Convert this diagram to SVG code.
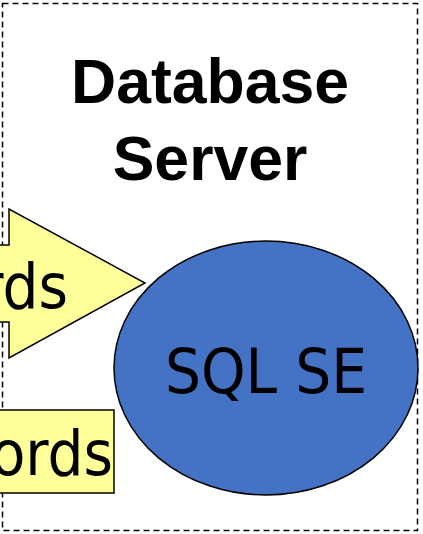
<svg xmlns="http://www.w3.org/2000/svg" width="423" height="534" viewBox="0 0 423 534">
<style>
.lbl{font-family:"DejaVu Sans Condensed","DejaVu Sans",sans-serif;font-size:63px;fill:#000}
.title{font-family:"Liberation Sans",Arial,sans-serif;font-weight:bold;font-size:62.5px;fill:#000;text-anchor:middle}
.y{fill:#FFFF99;stroke:#000;stroke-width:1.5}
</style>
<rect width="423" height="534" fill="#fff"/>
<g id="server">
<rect x="2.5" y="3.5" width="415" height="527" fill="none" stroke="#000" stroke-width="1.5" stroke-dasharray="6,4"/>
<text class="title" x="210" y="103">Database</text>
<text class="title" x="210" y="180">Server</text>
</g>
<g id="arrow">
<polygon class="y" points="-5,245 9,245 9,209 145,283 9,358 9,322 -5,322"/>
<text class="lbl" x="68" y="308" text-anchor="end">rds</text>
</g>
<g id="records">
<rect class="y" x="-5" y="410" width="119" height="83"/>
<text class="lbl" x="113" y="475" text-anchor="end">ords</text>
</g>
<g id="sqlse">
<ellipse cx="266" cy="368" rx="152" ry="127" fill="#4472C4" stroke="#000" stroke-width="1.5"/>
<text class="lbl" x="266" y="393" text-anchor="middle">SQL SE</text>
</g>
</svg>
